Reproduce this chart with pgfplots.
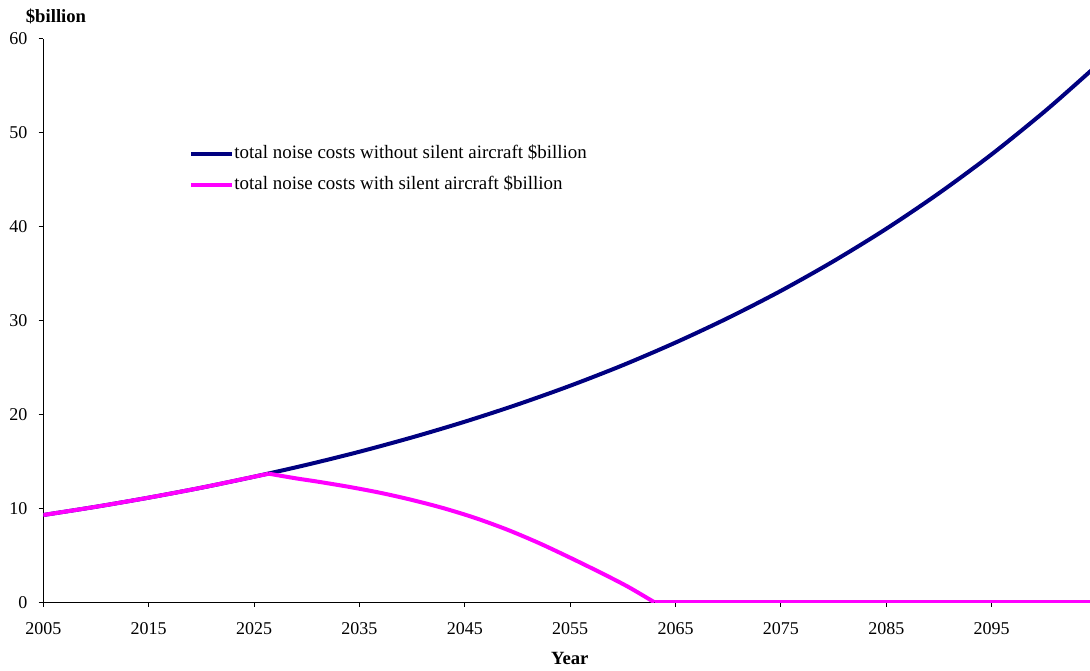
\documentclass[border=0pt]{standalone}
\usepackage{pgfplots}
\pgfplotsset{compat=1.18}
\usepackage{fontspec}
\setmainfont{Liberation Serif}
\definecolor{navyline}{RGB}{0,0,128}
\definecolor{magline}{RGB}{255,0,255}
\begin{document}
\begin{tikzpicture}
\begin{axis}[
  scale only axis,
  width=785pt, height=422.5pt,
  xmin=2005, xmax=2104.33,
  ymin=0, ymax=60,
  axis lines*=left,
  axis line style={black, line width=0.75pt},
  tick align=outside,
  major tick length=3.5pt,
  tick style={black, line width=0.75pt},
  xtick={2005,2015,...,2095},
  ytick={0,10,...,60},
  xticklabel style={/pgf/number format/1000 sep={}, yshift=-8pt},
  yticklabel style={xshift=-5pt},
  /pgf/number format/assume math mode=true,
  ticklabel style={font=\fontsize{13.5}{15}\selectfont},
  xlabel={\textbf{Year}},
  xlabel style={font=\fontsize{14}{16}\selectfont, at={(axis description cs:0.503,0)}, anchor=base, yshift=-46.3pt, inner sep=0pt},
  title={\textbf{\$billion}},
  title style={font=\fontsize{14}{16}\selectfont, at={(axis description cs:0,1)}, anchor=base, xshift=9.5pt, yshift=6.4pt, inner sep=0pt},
  clip=true,
  legend cell align=left,
  legend style={draw=none, fill=none, at={(axis description cs:0.139,0.8125)}, anchor=north west, inner sep=0pt,
    font=\fontsize{14.2}{16}\selectfont, row sep=10.25pt,
    nodes={inner sep=0pt, text height=10pt, text depth=3pt},
    /tikz/every even column/.append style={column sep=3pt}},
  legend image code/.code={\draw[#1] (0pt,0pt) -- (31pt,0pt);},
]
\addplot[navyline, line width=3pt, smooth] coordinates {
(2005,9.30) (2010,10.18) (2015,11.15) (2020,12.21) (2025,13.38)
(2030,14.65) (2035,16.04) (2040,17.57) (2045,19.24) (2050,21.07) (2055,23.07)
(2060,25.26) (2065,27.67) (2070,30.30) (2075,33.18) (2080,36.34) (2085,39.79)
(2090,43.58) (2095,47.72) (2100,52.26) (2104,56.20) (2105,57.23)
};
\addlegendentry{total noise costs without silent aircraft \$billion}
\addplot[magline, line width=3pt, smooth] coordinates {
(2005,9.30) (2010,10.18) (2015,11.15) (2020,12.21) (2025,13.38) (2026.4,13.70)
};
\addlegendentry{total noise costs with silent aircraft \$billion}
\addplot[magline, line width=3pt, smooth, forget plot] coordinates {
(2026.4,13.70) (2029,13.20) (2031,12.86) (2034,12.30) (2037,11.66) (2040,10.90)
(2043,10.02) (2046,8.98) (2049,7.75) (2052,6.33) (2055,4.75) (2058,3.10) (2060.5,1.65) (2063,0)
};
\addplot[magline, line width=3pt, forget plot] coordinates {
(2063,0) (2070,0) (2080,0) (2090,0) (2100,0) (2105,0)
};
\end{axis}
\pgfresetboundingbox
\path[use as bounding box] ([shift={(-32.5pt,-50.8pt)}]current axis.south west) rectangle ([shift={(0pt,29.25pt)}]current axis.north east);
\end{tikzpicture}
\end{document}
